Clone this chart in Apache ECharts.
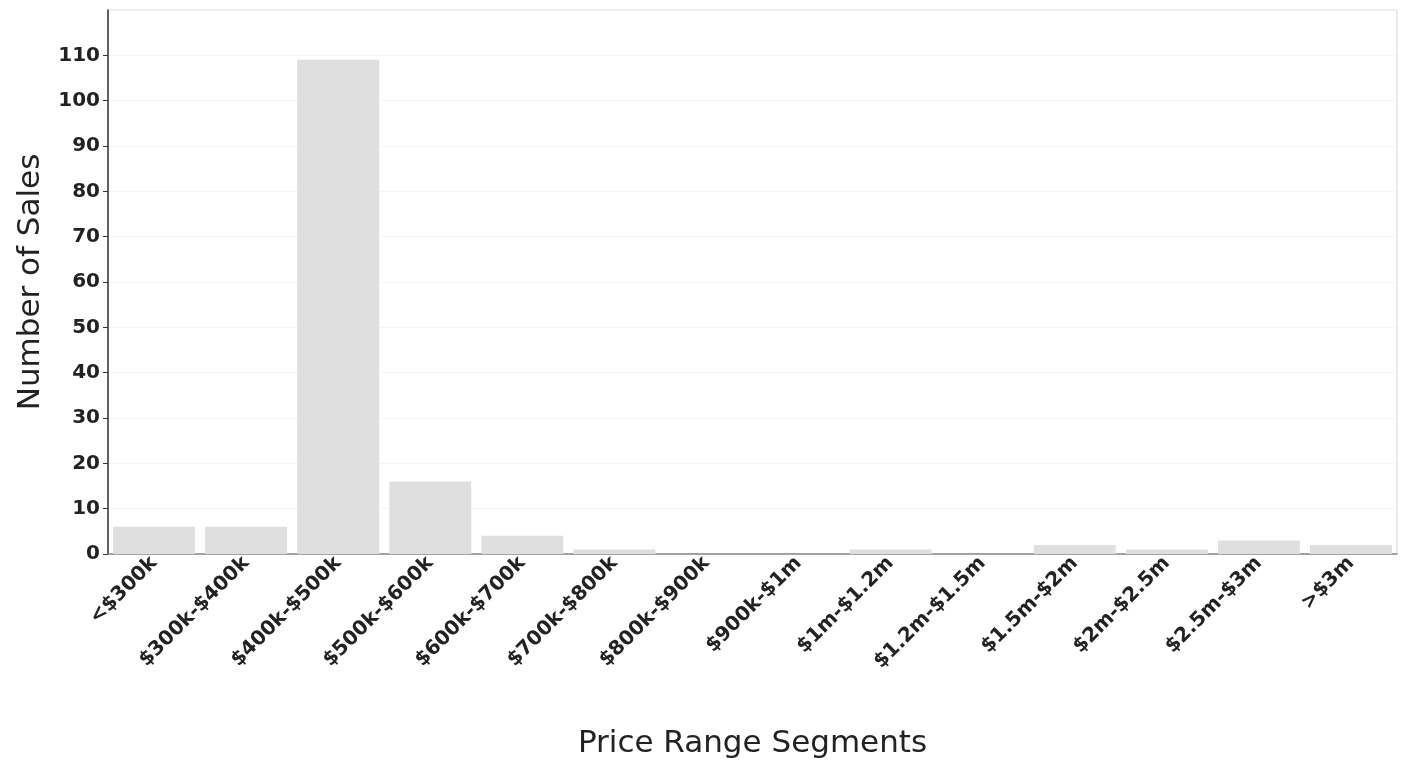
<!DOCTYPE html>
<html>
<head>
<meta charset="utf-8">
<script src="https://cdn.jsdelivr.net/npm/echarts@6/dist/echarts.min.js"></script>
<style>html,body{margin:0;padding:0;background:#fff}#c{width:1409px;height:765px}</style>
</head>
<body>
<div id="c"></div>
<script>
const categories = ['<$300k','$300k-$400k','$400k-$500k','$500k-$600k','$600k-$700k','$700k-$800k','$800k-$900k','$900k-$1m','$1m-$1.2m','$1.2m-$1.5m','$1.5m-$2m','$2m-$2.5m','$2.5m-$3m','>$3m'];
const sales = [6, 6, 109, 16, 4, 1, 0, 0, 1, 0, 2, 1, 3, 2];
const yTicks = {min: 0, max: 120, interval: 10};

const chart = echarts.init(document.getElementById('c'));
chart.setOption({
  animation: false,
  grid: {left: 108, right: 12, top: 10, bottom: 211, show: true, borderColor: '#d4d4d4', borderWidth: 1},
  xAxis: {
    type: 'category',
    data: categories,
    name: 'Price Range Segments',
    nameLocation: 'middle',
    nameGap: 174,
    nameTextStyle: {fontFamily: 'DejaVu Sans', fontSize: 31, color: '#222'},
    axisLine: {lineStyle: {color: '#888', width: 1.5}},
    axisTick: {show: false},
    axisLabel: {rotate: 45, interval: 0, fontFamily: 'DejaVu Sans', fontWeight: 'bold', fontSize: 20, color: '#222', margin: 6}
  },
  yAxis: {
    type: 'value',
    min: yTicks.min, max: yTicks.max, interval: yTicks.interval,
    name: 'Number of Sales',
    nameLocation: 'middle',
    nameGap: 62,
    nameTextStyle: {fontFamily: 'DejaVu Sans', fontSize: 31, color: '#222'},
    axisLine: {show: true, lineStyle: {color: '#333', width: 1.5}},
    axisTick: {show: true, length: 5, lineStyle: {color: '#333'}},
    axisLabel: {showMaxLabel: false, fontFamily: 'DejaVu Sans', fontWeight: 'bold', fontSize: 20, color: '#222', margin: 8},
    splitLine: {show: true, lineStyle: {color: '#f4f4f4'}}
  },
  series: [{
    type: 'bar',
    data: sales,
    barCategoryGap: '11%',
    itemStyle: {color: '#dfdfdf'}
  }]
});
</script>
</body>
</html>
